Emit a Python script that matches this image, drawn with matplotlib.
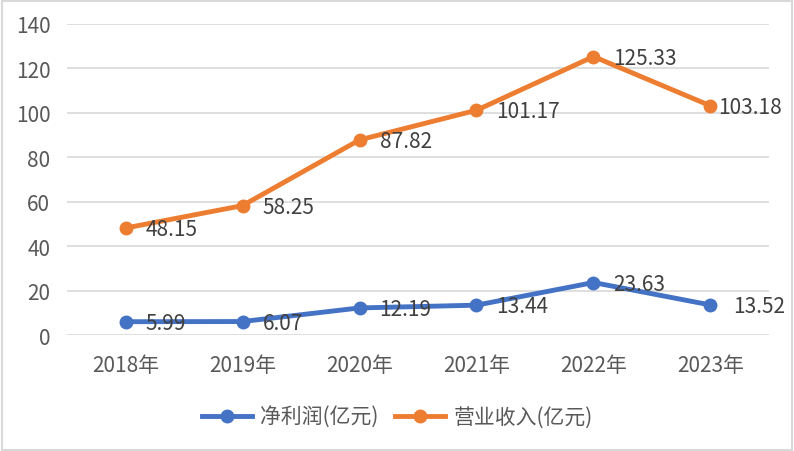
import matplotlib.pyplot as plt
from matplotlib.patches import Rectangle

plt.rcParams['font.family'] = ['Noto Sans CJK SC', 'DejaVu Sans']

years = ['2018年', '2019年', '2020年', '2021年', '2022年', '2023年']
net_profit = [5.99, 6.07, 12.19, 13.44, 23.63, 13.52]
revenue = [48.15, 58.25, 87.82, 101.17, 125.33, 103.18]
label_profit = '净利润(亿元)'
label_revenue = '营业收入(亿元)'
yticks = [0, 20, 40, 60, 80, 100, 120, 140]

blue = '#4472C4'
orange = '#ED7D31'
fs = 15

fig = plt.figure(figsize=(7.94, 4.52), dpi=100)
ax = fig.add_axes([0.0844, 0.2566, 0.8841, 0.6881])
x = list(range(len(years)))

ax.plot(x, net_profit, color=blue, lw=3.5, marker='o', ms=9, label=label_profit, zorder=3)
ax.plot(x, revenue, color=orange, lw=3.5, marker='o', ms=9, label=label_revenue, zorder=3)

last = len(years) - 1
for i, v in enumerate(net_profit):
    dx = 23 if i == last else 20
    ax.annotate('{:.2f}'.format(v), (i, v), xytext=(dx, -1), textcoords='offset pixels',
                ha='left', va='center', fontsize=fs, color='#404040', zorder=4)
for i, v in enumerate(revenue):
    dx = 8 if i == last else 20
    ax.annotate('{:.2f}'.format(v), (i, v), xytext=(dx, -1), textcoords='offset pixels',
                ha='left', va='center', fontsize=fs, color='#404040', zorder=4)

ax.set_xlim(-0.5, len(years) - 0.5)
ax.set_ylim(0, 140)
ax.set_yticks(yticks)
ax.set_xticks(x)
ax.set_xticklabels(years)
ax.tick_params(axis='both', length=0, labelsize=fs, colors='#595959')
ax.tick_params(axis='x', pad=14)
ax.tick_params(axis='y', pad=12)
ax.grid(axis='y', color='#D9D9D9', lw=1.2)
ax.set_axisbelow(True)
for s in ax.spines.values():
    s.set_visible(False)

leg = fig.legend(loc='center', bbox_to_anchor=(0.5, 0.075), ncol=2, frameon=False,
                 fontsize=fs, handlelength=2.4, columnspacing=0.8, handletextpad=0.4)
for t in leg.get_texts():
    t.set_color('#595959')

fig.patches.append(Rectangle((0.002, 0.003), 0.995, 0.993, transform=fig.transFigure,
                             fill=False, edgecolor='#D9D9D9', lw=1.5))

fig.savefig('out.png', dpi=100)
